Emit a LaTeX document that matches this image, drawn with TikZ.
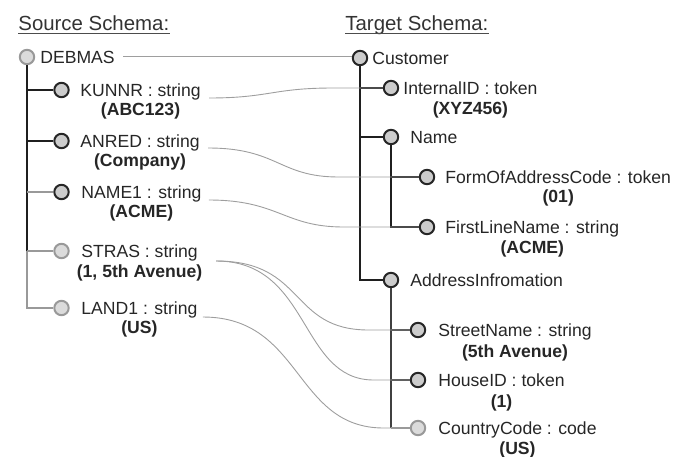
\documentclass[tikz,border=0pt]{standalone}
\usepackage{fontspec}
\setmainfont{Liberation Sans}
\usetikzlibrary{calc}
\begin{document}
\begin{tikzpicture}[x=0.5pt,y=-0.5pt,
  lbl/.style={inner sep=0pt, anchor=base west, font=\fontsize{8.8}{10}\selectfont, text=black!85},
  val/.style={inner sep=0pt, anchor=base, font=\fontsize{8.8}{10}\selectfont\bfseries, text=black!85},
  heading/.style={inner sep=0pt, anchor=base west, font=\fontsize{10.2}{12}\selectfont, text=black!80},
  elem/.style={circle, draw=black!85, fill=black!20, line width=1pt, minimum size=7.2pt, inner sep=0pt},
  optelem/.style={elem, draw=black!40, fill=black!14},
  branch/.style={draw=black!88, line width=1.1pt},
  subtree/.style={draw=black!75, line width=0.7pt},
  faint/.style={draw=black!40, line width=0.7pt},
  mapline/.style={draw=black!38, line width=0.45pt},
  uline/.style={draw=black!70, line width=0.5pt},
]
\useasboundingbox (0,0) rectangle (673,456);

% headings
\node[heading] (srctitle) at (18,30) {Source Schema:};
\node[heading] (tgttitle) at (345,30) {Target Schema:};
\draw[uline] ([yshift=-1.5pt]srctitle.base west) -- ([yshift=-1.5pt]srctitle.base east);
\draw[uline] ([yshift=-1.5pt]tgttitle.base west) -- ([yshift=-1.5pt]tgttitle.base east);

% source schema elements
\node[optelem] (debmas) at (27,57) {};
\node[elem] (kunnr) at (61.5,90) {};
\node[elem] (anred) at (61.5,141) {};
\node[elem] (name1) at (61.5,192) {};
\node[optelem] (stras) at (61.5,251) {};
\node[optelem] (land1) at (61.5,308) {};

\node[lbl] (debmasL) at (40,63) {DEBMAS};
\node[lbl] (kunnrL) at (80,96) {KUNNR : string};
\node[val] (kunnrV) at ([yshift=-9.75pt]kunnrL.base) {(ABC123)};
\node[lbl] (anredL) at (80,147) {ANRED : string};
\node[val] (anredV) at ([yshift=-9.75pt]anredL.base) {(Company)};
\node[lbl] (name1L) at (81,198) {NAME1 : string};
\node[val] (name1V) at ([yshift=-9.75pt]name1L.base) {(ACME)};
\node[lbl] (strasL) at (81,257) {STRAS : string};
\node[val] (strasV) at ([yshift=-10.25pt]strasL.base) {(1, 5th Avenue)};
\node[lbl] (land1L) at (81,314) {LAND1 : string};
\node[val] (land1V) at ([yshift=-9.75pt]land1L.base) {(US)};

% source tree lines
\draw[branch] (debmas.south) -- (debmas.south |- stras.center);
\draw[faint] (debmas.south |- stras.center) -- (debmas.south |- land1.center) -- (land1.west);
\draw[branch] (debmas.south |- kunnr.center) -- (kunnr.west);
\draw[branch] (debmas.south |- anred.center) -- (anred.west);
\draw[faint] (debmas.south |- name1.center) -- (name1.west);
\draw[faint] (debmas.south |- stras.center) -- (stras.west);

% target schema elements
\node[elem] (customer) at (360,58) {};
\node[elem] (internalid) at (391,88) {};
\node[elem] (name) at (391,137) {};
\node[elem] (foac) at (427,177) {};
\node[elem] (fln) at (427,227) {};
\node[elem] (addr) at (391,280) {};
\node[elem] (street) at (418,330) {};
\node[elem] (house) at (418,380) {};
\node[optelem] (country) at (418,428) {};

\node[lbl] (customerL) at (372,64) {Customer};
\node[lbl] (internalidL) at (403,94) {InternalID : token};
\node[val] (internalidV) at ([yshift=-10pt]internalidL.base) {(XYZ456)};
\node[lbl] (nameL) at (410,143) {Name};
\node[lbl] (foacL) at (445,183) {FormOfAddressCode : token};
\node[val] (foacV) at ([yshift=-9.75pt]foacL.base) {(01)};
\node[lbl] (flnL) at (445,233) {FirstLineName : string};
\node[val] (flnV) at ([yshift=-10pt]flnL.base) {(ACME)};
\node[lbl] (addrL) at (410,286) {AddressInfromation};
\node[lbl] (streetL) at (438,336) {StreetName : string};
\node[val] (streetV) at ([yshift=-10.5pt]streetL.base) {(5th Avenue)};
\node[lbl] (houseL) at (438,386) {HouseID : token};
\node[val] (houseV) at ([yshift=-10.5pt]houseL.base) {(1)};
\node[lbl] (countryL) at (438,434) {CountryCode : code};
\node[val] (countryV) at ([yshift=-10pt]countryL.base) {(US)};

% target tree lines
\draw[branch] (customer.south) -- (customer.south |- addr.center) -- (addr.west);
\draw[branch] (customer.south |- internalid.center) -- (internalid.west);
\draw[branch] (customer.south |- name.center) -- (name.west);
\draw[branch] (name.south) -- (name.south |- fln.center) -- (fln.west);
\draw[branch] (name.south |- foac.center) -- (foac.west);
\draw[subtree] (addr.south) -- (addr.south |- country.center);
\draw[subtree] (addr.south |- street.center) -- (street.west);
\draw[subtree] (addr.south |- house.center) -- (house.west);
\draw[faint] (addr.south |- country.center) -- (country.west);

% mappings between the schemas
\draw[mapline] ([xshift=4pt]debmasL.east) -- (debmasL.east -| customer.west);
\draw[mapline] ([xshift=4pt,yshift=-1pt]kunnrL.base east)
  .. controls +(60,0) and +(-60,0) .. ($(internalid.west)+(-50,0)$) -- (internalid.west);
\draw[mapline] ([xshift=4pt,yshift=-0.5pt]anredL.base east)
  .. controls +(70,0) and +(-60,0) .. ($(foac.west)+(-80,0)$) -- (foac.west);
\draw[mapline] ([xshift=3.5pt,yshift=-1pt]name1L.base east)
  .. controls +(70,0) and +(-60,0) .. ($(fln.west)+(-75,0)$) -- (fln.west);
\draw[mapline] ([xshift=9pt,yshift=-2pt]strasL.base east)
  .. controls +(90,0) and +(-80,0) .. ($(street.west)+(-41,0)$) -- (street.west);
\draw[mapline] ([xshift=9pt,yshift=-2pt]strasL.base east)
  .. controls +(95,0) and +(-75,0) .. ($(house.west)+(-36,0)$) -- (house.west);
\draw[mapline] ([xshift=2.5pt,yshift=-1.5pt]land1L.base east)
  .. controls +(100,0) and +(-90,0) .. ($(country.west)+(-26,0)$) -- (country.west);
\end{tikzpicture}
\end{document}
